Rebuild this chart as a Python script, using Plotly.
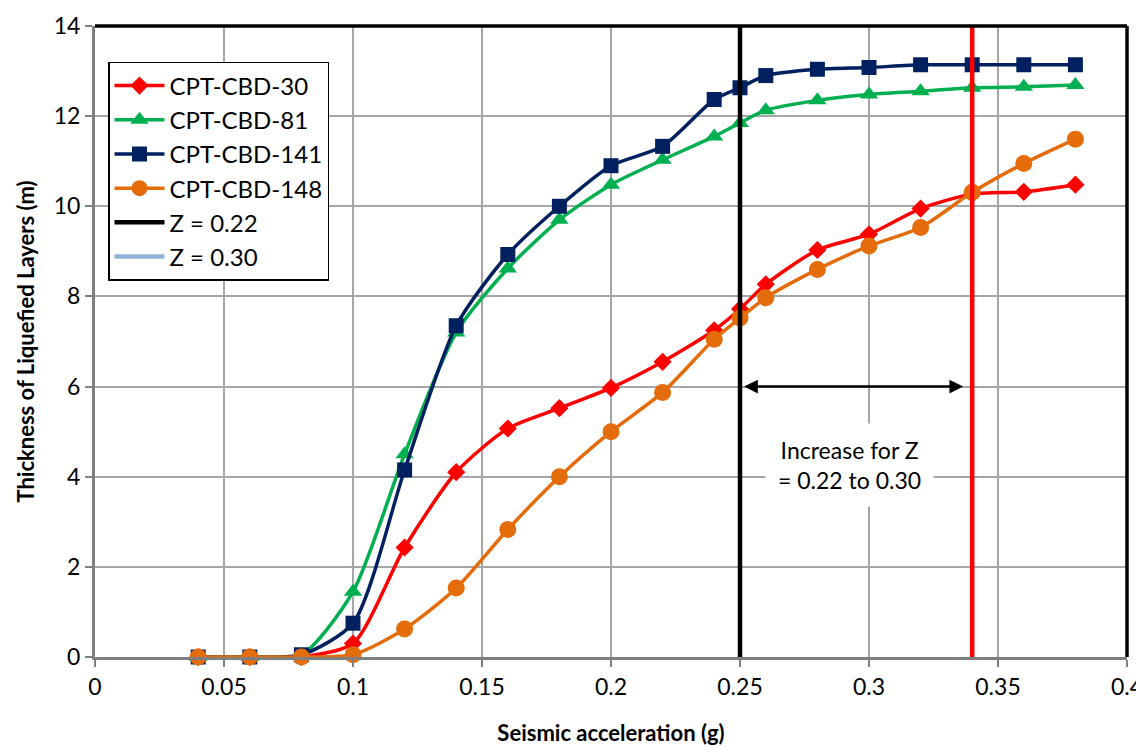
import plotly.graph_objects as go

x_acc = [0.04, 0.06, 0.08, 0.10, 0.12, 0.14, 0.16, 0.18, 0.20, 0.22, 0.24, 0.25, 0.26, 0.28, 0.30, 0.32, 0.34, 0.36, 0.38]
cbd30 = [0, 0, 0, 0.3, 2.43, 4.1, 5.07, 5.52, 5.97, 6.55, 7.25, 7.72, 8.27, 9.03, 9.38, 9.95, 10.27, 10.32, 10.48]
cbd81 = [0, 0, 0.05, 1.45, 4.5, 7.2, 8.62, 9.7, 10.48, 11.03, 11.55, 11.85, 12.13, 12.35, 12.48, 12.55, 12.63, 12.65, 12.69]
cbd141 = [0, 0, 0.05, 0.75, 4.15, 7.35, 8.93, 10.0, 10.9, 11.33, 12.37, 12.63, 12.9, 13.04, 13.08, 13.14, 13.14, 13.14, 13.14]
cbd148 = [0, 0, 0, 0.05, 0.62, 1.53, 2.83, 4.0, 5.0, 5.87, 7.05, 7.52, 7.97, 8.6, 9.12, 9.53, 10.31, 10.95, 11.49]

z_line_1_x = 0.25
z_line_2_x = 0.34
y_range = [0, 14]

FONT = "Lato"

fig = go.Figure()

series = [
    ("CPT-CBD-30", cbd30, "#FF0000", "diamond", 14),
    ("CPT-CBD-81", cbd81, "#00B050", "triangle-up", 16),
    ("CPT-CBD-141", cbd141, "#002060", "square", 15),
    ("CPT-CBD-148", cbd148, "#E46C0A", "circle", 17),
]
for name, ys, col, sym, sz in series:
    fig.add_trace(go.Scatter(
        x=x_acc, y=ys, name=name, mode="lines+markers",
        line=dict(color=col, width=3.5, shape="spline", smoothing=0.7),
        marker=dict(symbol=sym, size=sz, color=col),
        cliponaxis=False,
    ))

fig.add_trace(go.Scatter(
    x=[z_line_1_x, z_line_1_x], y=y_range, name="Z = 0.22", mode="lines",
    line=dict(color="black", width=4.5),
))
fig.add_trace(go.Scatter(
    x=[None], y=[None], name="Z = 0.30", mode="lines",
    line=dict(color="#95B3D7", width=4.5),
))
fig.add_trace(go.Scatter(
    x=[z_line_2_x, z_line_2_x], y=[-0.1, 14], mode="lines", showlegend=False,
    line=dict(color="#FF0000", width=4.5), cliponaxis=False,
))

fig.add_annotation(
    x=0.3365, y=6, ax=0.251, ay=6, xref="x", yref="y", axref="x", ayref="y",
    text="", showarrow=True, arrowhead=2, arrowside="end+start",
    arrowsize=1.1, arrowwidth=2.5, arrowcolor="black",
)
fig.add_annotation(
    x=0.2926, y=4.26, xref="x", yref="y",
    text="Increase for Z<br>= 0.22 to 0.30", showarrow=False,
    font=dict(family=FONT, size=23, color="black"),
    bgcolor="white", borderpad=12, align="center",
)

# frame top/right black
fig.add_shape(type="line", xref="paper", yref="paper", x0=0, x1=1, y0=1, y1=1,
              line=dict(color="black", width=3.5), layer="above")
fig.add_shape(type="line", xref="paper", yref="paper", x0=1, x1=1, y0=0, y1=1,
              line=dict(color="black", width=3.5), layer="above")

grid_col = "#A6A6A6"
fig.update_layout(
    width=1136, height=739,
    margin=dict(l=87, r=17, t=18, b=90, autoexpand=False),
    plot_bgcolor="white", paper_bgcolor="white",
    font=dict(family=FONT, size=23, color="black"),
    showlegend=True,
    legend=dict(
        x=0.0126, y=0.943, xanchor="left", yanchor="top",
        bgcolor="white", bordercolor="black", borderwidth=1.5,
        font=dict(family=FONT, size=24), tracegroupgap=0,
        itemwidth=50,
    ),
    xaxis=dict(
        range=[0, 0.4], dtick=0.05, tick0=0, automargin=False,
        showgrid=True, gridcolor=grid_col, gridwidth=1.5,
        showline=True, linecolor="#7F7F7F", linewidth=3,
        ticks="outside", ticklen=7, tickcolor="#7F7F7F", tickwidth=1.5,
        zeroline=False,
        title=dict(text="<b>Seismic acceleration (g)</b>", font=dict(family=FONT, size=22), standoff=28),
        tickfont=dict(family=FONT, size=23),
    ),
    yaxis=dict(
        range=y_range, dtick=2, tick0=0, automargin=False,
        showgrid=True, gridcolor=grid_col, gridwidth=1.5,
        showline=True, linecolor="#7F7F7F", linewidth=3,
        ticks="outside", ticklen=7, tickcolor="#7F7F7F", tickwidth=1.5,
        zeroline=False,
        title=dict(text="<b>Thickness of Liquefied Layers (m)</b>", font=dict(family=FONT, size=22), standoff=14),
        tickfont=dict(family=FONT, size=23),
    ),
)

fig.write_html("out.html")
